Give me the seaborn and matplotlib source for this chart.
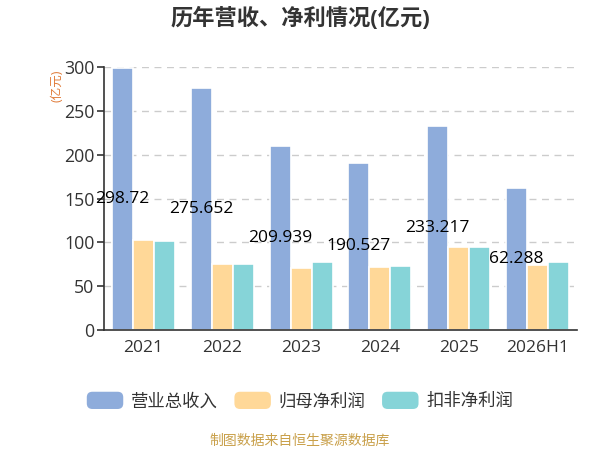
import matplotlib
matplotlib.use("Agg")
import matplotlib.pyplot as plt
from matplotlib.patches import FancyBboxPatch
from matplotlib.legend_handler import HandlerPatch
import seaborn as sns
import pandas as pd

years = ["2021", "2022", "2023", "2024", "2025", "2026H1"]
revenue = [298.72, 275.652, 209.939, 190.527, 233.217, 162.288]
net_profit = [102.3, 75.3, 70.3, 72.2, 94.3, 74.5]
deducted_profit = [102.0, 75.2, 77.9, 72.6, 94.6, 77.8]
revenue_labels = ["298.72", "275.652", "209.939", "190.527", "233.217", "62.288"]
series_names = ["营业总收入", "归母净利润", "扣非净利润"]
colors = ["#8eacdb", "#ffd898", "#86d4d8"]

frame = pd.DataFrame({
  "year": years * 3,
  "value": revenue + net_profit + deducted_profit,
  "series": [s for s in series_names for _ in years],
})

sns.set_style("white")
plt.rcParams["font.family"] = ["Open Sans", "Noto Sans CJK SC", "DejaVu Sans"]


class RoundHandler(HandlerPatch):
  def create_artists(self, legend, orig_handle, xdescent, ydescent, width, height, fontsize, trans):
    p = FancyBboxPatch((-xdescent, -ydescent), width, height,
                       boxstyle="round,pad=0,rounding_size=4",
                       facecolor=orig_handle.get_facecolor(), edgecolor="none",
                       transform=trans)
    return [p]


fig = plt.figure(figsize=(6, 4.5), dpi=100)
ax = fig.add_axes([104 / 600, 120 / 450, 473 / 600, 263 / 450])

sns.barplot(data=frame, x="year", y="value", hue="series", palette=colors,
            width=0.8, edgecolor="white", linewidth=1.2, saturation=1,
            legend=True, ax=ax)

ax.set_ylim(0, 300)
ax.set_yticks(range(0, 301, 50))
ax.set_xlim(-0.5, len(years) - 0.5)
for v in range(50, 301, 50):
  ax.axhline(v, color="#cccccc", linestyle=(0, (5, 4)), linewidth=1, zorder=0)

# revenue labels at half height of the blue bars
for bar, text in zip(ax.containers[0], revenue_labels):
  ax.text(bar.get_x() + bar.get_width() / 2, bar.get_height() / 2, text,
          ha="center", va="center", fontsize=12.5, color="#000000")

for s in ["top", "right"]:
  ax.spines[s].set_visible(False)
ax.spines["left"].set_color("#333333")
ax.spines["bottom"].set_color("#333333")
ax.spines["left"].set_linewidth(1.2)
ax.spines["bottom"].set_linewidth(1.2)

ax.set_xticks(range(len(years)))
ax.set_xticklabels(years)
ax.tick_params(axis="x", length=0, labelsize=12.5, labelcolor="#333333", pad=7)
ax.set_xticks([i - 0.5 for i in range(len(years) + 1)], minor=True)
ax.tick_params(axis="x", which="minor", length=5, width=1.2, color="#333333", direction="out")
ax.tick_params(axis="y", length=5, width=1.2, color="#333333", labelsize=12.8,
               labelcolor="#333333", left=True, pad=2)
ax.set_xlabel("")
ax.set_ylabel("")

fig.text(57 / 600, 1 - 86 / 450, "(亿元)", rotation=90, ha="center", va="center",
         fontsize=9, color="#e07b39")

fig.text(0.5, 1 - 18 / 450, "历年营收、净利情况(亿元)", ha="center", va="center",
         fontsize=16, fontweight="bold", color="#333333")

handles, labels = ax.get_legend_handles_labels()
ax.legend_.remove()
fig.legend(handles, labels, loc="center", bbox_to_anchor=(0.5, 1 - 401 / 450),
           ncol=3, frameon=False, fontsize=12.5, handlelength=2.1, handleheight=1.15,
           columnspacing=0.95, handletextpad=0.45, labelcolor="#333333",
           handler_map={h: RoundHandler() for h in handles})

fig.text(0.5, 1 - 441 / 450, "制图数据来自恒生聚源数据库", ha="center", va="center",
         fontsize=10, color="#c9a04a")

fig.savefig("out.png", dpi=100)
